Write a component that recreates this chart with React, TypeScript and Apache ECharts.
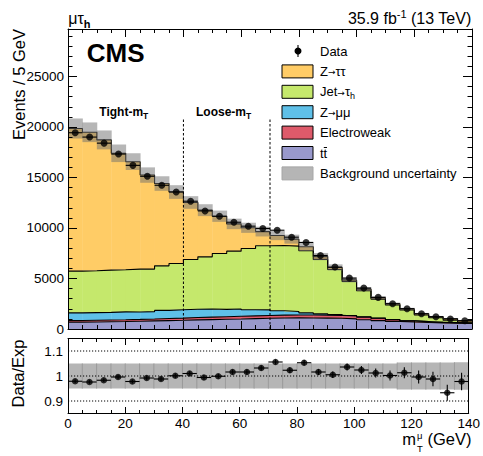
import { useEffect, useRef } from "react";
import * as echarts from "echarts";

// Lower edges of the 5 GeV bins in m_T (GeV)
const binLow = [0, 5, 10, 15, 20, 25, 30, 35, 40, 45, 50, 55, 60, 65, 70, 75, 80, 85, 90, 95, 100, 105, 110, 115, 120, 125, 130, 135];
const BIN_WIDTH = 5;

// Expected events per bin, stacked bottom to top
const ttbar = [680, 700, 720, 740, 770, 800, 830, 860, 900, 930, 960, 990, 1030, 1060, 1090, 1100, 1090, 1080, 1060, 1000, 920, 830, 750, 690, 640, 600, 570, 550];
const electroweak = [160, 165, 170, 175, 180, 190, 210, 220, 235, 245, 255, 265, 270, 275, 280, 285, 290, 290, 285, 280, 260, 230, 170, 110, 90, 60, 55, 40];
const zmumu = [760, 760, 760, 780, 740, 730, 800, 820, 820, 810, 730, 720, 600, 560, 430, 350, 220, 130, 80, 50, 30, 20, 15, 10, 10, 5, 5, 5];
const jetFakes = [4130, 4140, 4180, 4170, 4240, 4210, 4410, 4590, 4930, 5160, 5530, 5730, 6070, 6340, 6470, 6470, 6140, 5390, 4470, 3380, 2570, 1880, 1440, 1070, 640, 450, 230, 100];
const ztautau = [14120, 13710, 12890, 11530, 10630, 9310, 8150, 7070, 5640, 4620, 3690, 2700, 2050, 1410, 990, 690, 400, 280, 200, 150, 170, 130, 120, 110, 130, 110, 170, 150];

// Observed events per bin
const observed = [19430, 19000, 18400, 17320, 16200, 15120, 14230, 13570, 12650, 11690, 11160, 10570, 10180, 9950, 9780, 9090, 8570, 7280, 6130, 5040, 4050, 3130, 2500, 2010, 1510, 1215, 990, 820];

// Data / expectation and its statistical uncertainty
const ratio = [0.979, 0.976, 0.983, 0.996, 0.978, 0.992, 0.988, 1.001, 1.01, 0.994, 0.999, 1.016, 1.016, 1.032, 1.056, 1.023, 1.053, 1.016, 1.005, 1.036, 1.024, 1.012, 1.002, 1.013, 0.996, 0.988, 0.933, 0.978];
const ratioErr = [0.007, 0.007, 0.007, 0.008, 0.008, 0.008, 0.008, 0.009, 0.009, 0.009, 0.009, 0.01, 0.01, 0.01, 0.01, 0.011, 0.011, 0.012, 0.013, 0.014, 0.016, 0.018, 0.02, 0.022, 0.026, 0.029, 0.032, 0.035];

// Relative background uncertainty per bin
const bkgUnc = [0.05, 0.05, 0.05, 0.05, 0.05, 0.05, 0.05, 0.05, 0.05, 0.05, 0.05, 0.05, 0.05, 0.05, 0.05, 0.05, 0.05, 0.05, 0.05, 0.05, 0.05, 0.05, 0.05, 0.054, 0.054, 0.054, 0.054, 0.055];

// Tight / loose m_T region boundaries
const regionCuts = [40, 70];
const regionCutTop = 20800;
const ratioRefLines = [0.9, 1, 1.1];

const FONT = '"Liberation Sans", Arial, Helvetica, sans-serif';
const ARROW_FONT = '"DejaVu Sans", sans-serif';

const stackLayers = [
  { values: ttbar, color: "#9999cc" },
  { values: electroweak, color: "#de5a6a" },
  { values: zmumu, color: "#5fc0e8" },
  { values: jetFakes, color: "#c5e86c" },
  { values: ztautau, color: "#ffcc66" },
];

let running = binLow.map(() => 0);
const stacked = stackLayers.map((layer) => {
  const base = running;
  const top = base.map((b, i) => b + layer.values[i]);
  running = top;
  return { color: layer.color, base, top };
});
const totalExpected = running;

// ---------- text helpers ----------
let measureCtx: CanvasRenderingContext2D | null = null;
function textWidth(text: string, size: number, bold: boolean, family = FONT) {
  if (!measureCtx) measureCtx = document.createElement("canvas").getContext("2d");
  measureCtx!.font = `${bold ? "bold" : "normal"} ${size}px ${family}`;
  return measureCtx!.measureText(text).width;
}

type Run = { text: string; size: number; bold?: boolean; rise?: number; stack?: boolean; dx?: number; family?: string };

function textRuns(x0: number, baseline: number, runs: Run[], align: "left" | "right" = "left") {
  let cursor = 0;
  let prevStart = 0;
  const placed = runs.map((r) => {
    const w = textWidth(r.text, r.size, !!r.bold, r.family || FONT);
    const start = r.stack ? prevStart : cursor + (r.dx || 0);
    cursor = Math.max(cursor, start + w);
    prevStart = start;
    return { ...r, start };
  });
  const offset = align === "right" ? x0 - cursor : x0;
  return placed.map((p) => ({
    type: "text",
    x: offset + p.start,
    y: baseline - (p.rise || 0) - 0.3465 * p.size,
    silent: true,
    z: 100,
    style: {
      text: p.text,
      fontSize: p.size,
      fontWeight: p.bold ? "bold" : "normal",
      fontFamily: p.family || FONT,
      fill: "#000",
      align: "left",
      verticalAlign: "middle",
      textAlign: "left",
      textVerticalAlign: "middle",
    },
  }));
}

function rotatedTitle(x: number, yEnd: number, text: string, size: number) {
  return {
    type: "text",
    x,
    y: yEnd,
    rotation: Math.PI / 2,
    silent: true,
    z: 100,
    style: {
      text,
      fontSize: size,
      fontFamily: FONT,
      fill: "#000",
      align: "right",
      verticalAlign: "middle",
      textAlign: "right",
      textVerticalAlign: "middle",
    },
  };
}

// ---------- series helpers ----------
function rectSeries(xIdx: number, yIdx: number, rows: number[][], fill: string, z: number, edgeLines = false) {
  return {
    type: "custom",
    xAxisIndex: xIdx,
    yAxisIndex: yIdx,
    z,
    silent: true,
    data: rows,
    encode: { x: [0, 1], y: [2, 3] },
    renderItem: (params: any, api: any) => {
      const a = api.coord([api.value(0), api.value(2)]);
      const b = api.coord([api.value(1), api.value(3)]);
      const children: any[] = [
        {
          type: "rect",
          shape: { x: a[0], y: b[1], width: b[0] - a[0] + 0.4, height: a[1] - b[1] },
          style: { fill },
        },
      ];
      if (edgeLines && params.dataIndex > 0) {
        children.push({
          type: "line",
          shape: { x1: a[0], y1: a[1], x2: a[0], y2: b[1] },
          style: { stroke: "#929292", lineWidth: 0.8 },
        });
      }
      return { type: "group", children };
    },
  };
}

function outlineSeries(top: number[]) {
  return {
    type: "line",
    xAxisIndex: 0,
    yAxisIndex: 0,
    z: 2,
    silent: true,
    symbol: "none",
    showSymbol: false,
    lineStyle: { color: "#000", width: 1.1 },
    data: binLow.flatMap((lo, i) => [
      [lo, top[i]],
      [lo + BIN_WIDTH, top[i]],
    ]),
  };
}

function errorBarSeries(xIdx: number, yIdx: number, values: number[], errs: number[] | null, z: number) {
  return {
    type: "custom",
    xAxisIndex: xIdx,
    yAxisIndex: yIdx,
    z,
    silent: true,
    data: binLow.map((lo, i) => [lo, lo + BIN_WIDTH, values[i], errs ? errs[i] : 0]),
    encode: { x: [0, 1], y: 2 },
    renderItem: (params: any, api: any) => {
      const lo = api.value(0);
      const hi = api.value(1);
      const v = api.value(2);
      const e = api.value(3);
      const a = api.coord([lo, v]);
      const b = api.coord([hi, v]);
      const c0 = api.coord([(lo + hi) / 2, v - e]);
      const c1 = api.coord([(lo + hi) / 2, v + e]);
      return {
        type: "group",
        children: [
          { type: "line", shape: { x1: a[0], y1: a[1], x2: b[0], y2: b[1] }, style: { stroke: "#000", lineWidth: 1.1 } },
          { type: "line", shape: { x1: c0[0], y1: c0[1], x2: c1[0], y2: c1[1] }, style: { stroke: "#000", lineWidth: 1.1 } },
        ],
      };
    },
  };
}

// ---------- axes ----------
const axisLine = { show: true, onZero: false, lineStyle: { color: "#000", width: 1 } };
const labelStyle = { color: "#000", fontSize: 13.5, fontFamily: FONT };

function xAxisDef(grid: number, position: "top" | "bottom", labels: boolean, major: number, minor: number) {
  return {
    type: "value",
    gridIndex: grid,
    position,
    min: 0,
    max: 140,
    interval: 20,
    z: 20,
    axisLine,
    axisTick: { show: true, inside: true, length: major, lineStyle: { color: "#000", width: 1 } },
    minorTick: { show: true, splitNumber: 4, length: minor, lineStyle: { color: "#000", width: 1 } },
    axisLabel: { show: labels, margin: 3, ...labelStyle },
    splitLine: { show: false },
    minorSplitLine: { show: false },
  };
}

function mainYAxis(position: "left" | "right", interval: number, tickLen: number, labels: boolean, line: boolean) {
  return {
    type: "value",
    gridIndex: 0,
    position,
    min: 0,
    max: 29700,
    interval,
    z: 20,
    axisLine: { ...axisLine, show: line },
    axisTick: { show: true, inside: true, length: tickLen, lineStyle: { color: "#000", width: 1 } },
    axisLabel: {
      show: labels,
      margin: 4,
      ...labelStyle,
      formatter: (v: number) => (v % 5000 === 0 ? String(v) : ""),
    },
    splitLine: { show: false },
  };
}

export default function App() {
  const ref = useRef<HTMLDivElement>(null);

  useEffect(() => {
    if (!ref.current) return;
    const chart = echarts.init(ref.current, undefined, { renderer: "svg" });

    const legendX = 282;
    const legendTextX = 320;
    const rowY = [51, 71.4, 91.8, 112.2, 132.6, 153, 173.4];
    const legendBase = (k: number) => rowY[k] + 0.3465 * 13;
    const legendBoxes = [
      { color: "#ffcc66", stroke: "#000" },
      { color: "#c5e86c", stroke: "#000" },
      { color: "#5fc0e8", stroke: "#000" },
      { color: "#de5a6a", stroke: "#000" },
      { color: "#9999cc", stroke: "#000" },
      { color: "#b5b5b5", stroke: "#a6a6a6" },
    ];
    const tWidth = textWidth("t", 13, false);
    const arrow: Run = { text: "→", size: 9, family: ARROW_FONT, rise: 0.5 };

    const graphics: any[] = [
      // header
      ...textRuns(68.3, 24, [
        { text: "μτ", size: 16 },
        { text: "h", size: 11, bold: true, rise: -3.5 },
      ]),
      ...textRuns(
        471.5,
        24,
        [
          { text: "35.9 fb", size: 16 },
          { text: "-1", size: 11, rise: 6.5 },
          { text: " (13 TeV)", size: 16 },
        ],
        "right"
      ),
      ...textRuns(86.7, 61.7, [{ text: "CMS", size: 26, bold: true }]),
      ...textRuns(99.3, 116, [
        { text: "Tight-m", size: 12, bold: true },
        { text: "T", size: 8.5, bold: true, rise: -3 },
      ]),
      ...textRuns(196, 116, [
        { text: "Loose-m", size: 12, bold: true },
        { text: "T", size: 8.5, bold: true, rise: -3 },
      ]),
      // axis titles
      rotatedTitle(18.5, 29, "Events / 5 GeV", 16.5),
      rotatedTitle(17.5, 339.5, "Data/Exp", 16.5),
      ...textRuns(
        471.5,
        445,
        [
          { text: "m", size: 16.5 },
          { text: "μ", size: 9.5, rise: 6, dx: 1 },
          { text: "T", size: 9.5, rise: -6.5, stack: true },
          { text: " (GeV)", size: 16.5 },
        ],
        "right"
      ),
      // legend: data marker
      {
        type: "line",
        silent: true,
        z: 100,
        shape: { x1: 298, y1: rowY[0] - 6, x2: 298, y2: rowY[0] + 6 },
        style: { stroke: "#000", lineWidth: 1.1 },
      },
      { type: "circle", silent: true, z: 100, shape: { cx: 298, cy: rowY[0], r: 3.5 }, style: { fill: "#000" } },
      ...textRuns(legendTextX, legendBase(0), [{ text: "Data", size: 13 }]),
      // legend boxes
      ...legendBoxes.map((b, k) => ({
        type: "rect",
        silent: true,
        z: 100,
        shape: { x: legendX, y: rowY[k + 1] - 6.5, width: 31, height: 13 },
        style: { fill: b.color, stroke: b.stroke, lineWidth: 1 },
      })),
      ...textRuns(legendTextX, legendBase(1), [{ text: "Z", size: 13 }, arrow, { text: "ττ", size: 13 }]),
      ...textRuns(legendTextX, legendBase(2), [
        { text: "Jet", size: 13 },
        arrow,
        { text: "τ", size: 13 },
        { text: "h", size: 9, rise: -3 },
      ]),
      ...textRuns(legendTextX, legendBase(3), [{ text: "Z", size: 13 }, arrow, { text: "μμ", size: 13 }]),
      ...textRuns(legendTextX, legendBase(4), [{ text: "Electroweak", size: 13 }]),
      ...textRuns(legendTextX, legendBase(5), [{ text: "tt", size: 13 }]),
      {
        type: "line",
        silent: true,
        z: 100,
        shape: {
          x1: legendTextX + tWidth + 0.2,
          y1: legendBase(5) - 10,
          x2: legendTextX + 2 * tWidth - 0.2,
          y2: legendBase(5) - 10,
        },
        style: { stroke: "#000", lineWidth: 1 },
      },
      ...textRuns(legendTextX, legendBase(6), [{ text: "Background uncertainty", size: 13 }]),
    ];

    const series: any[] = [];
    // stacked backgrounds
    stacked.forEach((s, k) => {
      series.push(
        rectSeries(
          0,
          0,
          binLow.map((lo, i) => [lo, lo + BIN_WIDTH, s.base[i], s.top[i]]),
          s.color,
          1 + k * 0.01
        )
      );
    });
    stacked.forEach((s) => series.push(outlineSeries(s.top)));
    // background uncertainty
    series.push(
      rectSeries(
        0,
        0,
        binLow.map((lo, i) => [lo, lo + BIN_WIDTH, totalExpected[i] * (1 - bkgUnc[i]), totalExpected[i] * (1 + bkgUnc[i])]),
        "rgba(110,110,110,0.5)",
        3
      )
    );
    // region boundaries
    series.push({
      type: "custom",
      xAxisIndex: 0,
      yAxisIndex: 0,
      z: 4,
      silent: true,
      data: regionCuts.map((c) => [c, 0, regionCutTop]),
      encode: { x: 0, y: [1, 2] },
      renderItem: (params: any, api: any) => {
        const a = api.coord([api.value(0), api.value(1)]);
        const b = api.coord([api.value(0), api.value(2)]);
        return {
          type: "line",
          shape: { x1: a[0], y1: a[1], x2: b[0], y2: b[1] },
          style: { stroke: "#000", lineWidth: 1, lineDash: [2.5, 2] },
        };
      },
    });
    // data
    series.push(errorBarSeries(0, 0, observed, null, 5));
    series.push({
      type: "scatter",
      xAxisIndex: 0,
      yAxisIndex: 0,
      z: 6,
      silent: true,
      symbol: "circle",
      symbolSize: 7,
      itemStyle: { color: "#000" },
      data: binLow.map((lo, i) => [lo + BIN_WIDTH / 2, observed[i]]),
    });

    // ratio panel
    series.push(
      rectSeries(
        2,
        4,
        binLow.map((lo, i) => [lo, lo + BIN_WIDTH, 1 - bkgUnc[i], 1 + bkgUnc[i]]),
        "#b5b5b5",
        1,
        true
      )
    );
    series.push({
      type: "custom",
      xAxisIndex: 2,
      yAxisIndex: 4,
      z: 3,
      silent: true,
      data: ratioRefLines.map((v) => [0, 140, v]),
      encode: { x: [0, 1], y: 2 },
      renderItem: (params: any, api: any) => {
        const a = api.coord([api.value(0), api.value(2)]);
        const b = api.coord([api.value(1), api.value(2)]);
        return {
          type: "line",
          shape: { x1: a[0], y1: a[1], x2: b[0], y2: b[1] },
          style: { stroke: "#000", lineWidth: 1, lineDash: [1.2, 1.8] },
        };
      },
    });
    series.push(errorBarSeries(2, 4, ratio, ratioErr, 5));
    series.push({
      type: "scatter",
      xAxisIndex: 2,
      yAxisIndex: 4,
      z: 6,
      silent: true,
      symbol: "circle",
      symbolSize: 6.5,
      itemStyle: { color: "#000" },
      data: binLow.map((lo, i) => [lo + BIN_WIDTH / 2, ratio[i]]),
    });

    chart.setOption({
      animation: false,
      backgroundColor: "#fff",
      grid: [
        { left: 68, top: 29, width: 404, height: 300 },
        { left: 68, top: 338.5, width: 404, height: 75 },
      ],
      xAxis: [
        xAxisDef(0, "bottom", false, 8, 4),
        xAxisDef(0, "top", false, 8, 4),
        xAxisDef(1, "bottom", true, 6.5, 3.5),
        xAxisDef(1, "top", false, 6.5, 3.5),
      ],
      yAxis: [
        mainYAxis("left", 5000, 9, true, true),
        mainYAxis("left", 1000, 4.5, false, false),
        mainYAxis("right", 5000, 9, false, true),
        mainYAxis("right", 1000, 4.5, false, false),
        {
          type: "value",
          gridIndex: 1,
          position: "left",
          min: 0.85,
          max: 1.15,
          interval: 0.05,
          z: 20,
          axisLine,
          axisTick: { show: false },
          axisLabel: {
            show: true,
            margin: 5,
            ...labelStyle,
            formatter: (v: number) => {
              const r = Math.round(v * 100) / 100;
              return r === 0.9 ? "0.9" : r === 1 ? "1" : r === 1.1 ? "1.1" : "";
            },
          },
          splitLine: { show: false },
        },
        {
          type: "value",
          gridIndex: 1,
          position: "right",
          min: 0.85,
          max: 1.15,
          interval: 0.05,
          z: 20,
          axisLine,
          axisTick: { show: false },
          axisLabel: { show: false },
          splitLine: { show: false },
        },
      ],
      graphic: { elements: graphics },
      series,
    });

    return () => chart.dispose();
  }, []);

  return (
    <div
      ref={ref}
      style={{ position: "absolute", left: 0, top: 0, width: 483, height: 456, background: "#fff" }}
    />
  );
}
